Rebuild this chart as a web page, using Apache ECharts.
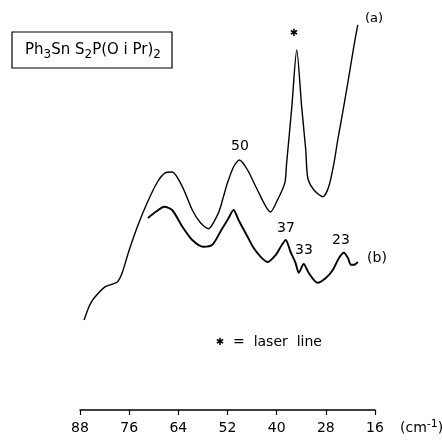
<!DOCTYPE html>
<html>
<head>
<meta charset="utf-8">
<script src="https://cdn.jsdelivr.net/npm/echarts@6/dist/echarts.min.js"></script>
<style>
  html, body { margin: 0; padding: 0; background: #fff; }
  #chart { width: 442px; height: 445px; }
</style>
</head>
<body>
<div id="chart"></div>
<script>
// wavenumber (cm-1) and relative intensity
const waveA = [87.0, 85.6, 84.3, 81.9, 78.9, 77.7, 76.2, 74.0, 71.6, 69.1, 67.2, 65.5, 63.0, 60.6, 58.6, 56.7, 54.2, 53.0, 52.0, 50.5, 49.1, 47.1, 44.7, 41.5, 39.8, 38.0, 37.6, 36.3, 35.1, 33.9, 32.9, 32.4, 30.9, 28.7, 27.3, 26.0, 25.1, 24.3, 22.6, 21.1, 20.2];
const intA = [22.5, 26.3, 28.3, 30.8, 32.0, 34.3, 39.3, 45.8, 51.8, 57.0, 59.3, 59.5, 55.8, 50.0, 46.8, 45.3, 49.3, 53.3, 56.8, 60.8, 62.5, 60.0, 55.0, 49.5, 52.5, 56.8, 61.3, 75.8, 90.0, 75.8, 65.0, 58.0, 55.0, 53.3, 55.8, 61.8, 67.5, 72.0, 82.0, 91.3, 96.3];

const waveB = [71.4, 69.6, 67.4, 65.5, 63.0, 60.6, 57.9, 55.7, 53.5, 52.0, 50.5, 49.3, 47.1, 45.6, 43.9, 42.2, 40.2, 39.0, 37.8, 36.6, 35.4, 34.6, 33.4, 32.2, 30.0, 28.0, 26.3, 24.8, 23.6, 22.6, 21.9, 21.1, 20.2];
const intB = [48.0, 49.5, 50.8, 50.0, 45.8, 42.5, 40.8, 41.3, 45.0, 47.5, 50.0, 47.5, 43.3, 40.5, 38.3, 37.0, 38.8, 40.8, 42.5, 39.5, 36.8, 34.3, 36.5, 34.3, 31.8, 33.0, 35.0, 38.0, 39.3, 38.0, 36.3, 36.3, 37.0];

const xTicks = [16, 28, 40, 52, 64, 76, 88];

const font = "DejaVu Sans";
const chart = echarts.init(document.getElementById("chart"));

function pairs(xs, ys) {
  return xs.map((x, i) => [x, ys[i]]);
}

function txt(x, y, text, size) {
  return {
    type: "text",
    x: x,
    y: y,
    style: {
      text: text,
      fontFamily: font,
      fontSize: size || 13,
      fill: "#000",
      align: "center",
      verticalAlign: "middle",
    },
  };
}

chart.setOption({
  animation: false,
  grid: { left: 80, right: 67, top: 10, bottom: 35 },
  xAxis: {
    type: "value",
    inverse: true,
    min: 16,
    max: 88,
    interval: 12,
    splitLine: { show: false },
    axisLine: { lineStyle: { color: "#000", width: 1.5 } },
    axisTick: { length: 5, lineStyle: { color: "#000", width: 1.2 } },
    axisLabel: {
      color: "#000",
      fontFamily: font,
      fontSize: 14,
      margin: 11,
      formatter: (v) => (xTicks.includes(v) ? String(v) : ""),
    },
  },
  yAxis: {
    type: "value",
    min: 0,
    max: 100,
    show: false,
  },
  series: [
    {
      name: "(a)",
      type: "line",
      data: pairs(waveA, intA),
      smooth: 0.25,
      showSymbol: false,
      lineStyle: { color: "#000", width: 1.4 },
    },
    {
      name: "(b)",
      type: "line",
      data: pairs(waveB, intB),
      smooth: 0.25,
      showSymbol: false,
      lineStyle: { color: "#000", width: 1.9 },
    },
  ],
  graphic: [
    {
      type: "rect",
      shape: { x: 12, y: 32, width: 160, height: 36 },
      style: { fill: "none", stroke: "#000", lineWidth: 1.2 },
    },
    {
      type: "text",
      x: 93,
      y: 50,
      style: {
        text: "Ph{s|3}Sn S{s|2}P(O i Pr){s|2}",
        fontFamily: font,
        fontSize: 15,
        fill: "#000",
        align: "center",
        verticalAlign: "middle",
        rich: {
          s: { fontFamily: font, fontSize: 12, padding: [9, 0, 0, 0] },
        },
      },
    },
    txt(374, 19, "(a)", 13),
    txt(377, 258, "(b)", 14),
    txt(294, 33, "\u2731", 10),
    txt(240, 146, "50", 14),
    txt(286, 228, "37", 14),
    txt(304, 250, "33", 14),
    txt(341, 240, "23", 14),
    txt(220, 342, "\u2731", 10),
    {
      type: "text",
      x: 233,
      y: 342,
      style: {
        text: "=  laser  line",
        fontFamily: font,
        fontSize: 14,
        fill: "#000",
        align: "left",
        verticalAlign: "middle",
      },
    },
    {
      type: "text",
      x: 400,
      y: 428,
      style: {
        text: "(cm{sup|-1})",
        fontFamily: font,
        fontSize: 14,
        fill: "#000",
        align: "left",
        verticalAlign: "middle",
        rich: {
          sup: { fontFamily: font, fontSize: 11, padding: [0, 0, 8, 0] },
        },
      },
    },
  ],
});
</script>
</body>
</html>
